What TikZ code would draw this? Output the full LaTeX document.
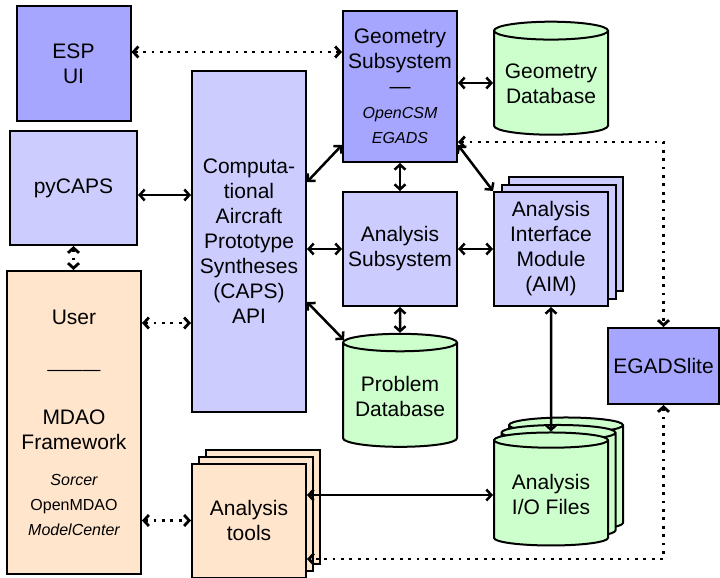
\documentclass[tikz,border=0pt]{standalone}
\usepackage{fontspec}
\setmainfont{Liberation Sans}
\usepackage{tikz}
\usetikzlibrary{arrows.meta,positioning,calc,shapes.geometric,shadows}
\tikzset{
  blk/.style={draw,line width=2pt,fill=#1,minimum width=114pt,minimum height=114pt,inner sep=1pt,align=center,font=\fontsize{21}{25}\selectfont},
  blk/.default={blue!20},
  db/.style={draw,line width=2pt,fill=green!20,cylinder,shape border rotate=90,aspect=0.19,minimum width=114pt,minimum height=113pt,inner sep=1pt,align=center,font=\fontsize{21}{25}\selectfont},
  stk/.style={double copy shadow={shadow xshift=#1,shadow yshift=#1}},
  stk/.default={7.5pt},
  arr/.style={{Straight Barb[length=5pt,width=11pt]}-{Straight Barb[length=5pt,width=11pt]},line width=2.5pt},
  dotarr/.style={arr,line width=2.8pt,dash pattern=on 2.8pt off 5.6pt},
}
\newcommand{\smit}[1]{{\fontsize{16}{25}\selectfont\itshape #1}}
\newcommand{\smup}[1]{{\fontsize{16}{25}\selectfont #1}}

\begin{document}
\begin{tikzpicture}
 \useasboundingbox (0,0) rectangle (720pt,-578pt);
 \node[blk=blue!35] (esp) at (73.5pt,-63.5pt){ESP\\UI};
 \node[blk,minimum width=127pt] (pycaps) at (73.5pt,-188pt){pyCAPS};
 \node[blk,minimum height=341pt] (caps) at (249pt,-241.5pt){Computa-\\tional\\Aircraft\\Prototype\\Syntheses\\(CAPS)\\API};
 \node[blk=blue!35,minimum height=151pt] (geom) at (400pt,-86.5pt){Geometry\\Subsystem\\—\\\smit{OpenCSM}\\\smit{EGADS}};
 \node[db] (gdb) at (551pt,-84pt){Geometry\\Database};
 \node[blk] (asub) at (400pt,-249pt){Analysis\\Subsystem};
 \node[blk,stk] (aim) at (551pt,-249pt){Analysis\\Interface\\Module\\(AIM)};
 \node[db] (pdb) at (400pt,-396pt){Problem\\Database};
 \node[db,stk] (io) at (551pt,-494pt){Analysis\\I/O Files};
 \node[blk=blue!35,minimum width=111pt,minimum height=76pt] (egl) at (663.5pt,-366pt){EGADSlite};
 \node[blk=orange!20,minimum width=134pt,minimum height=303pt] (user) at (74pt,-422.5pt){User\\[26pt]{\fontsize{17.7}{25}\selectfont ———}\\[24pt]MDAO\\Framework\\[11pt]\smit{Sorcer}\\\smup{OpenMDAO}\\\smit{ModelCenter}};
 \node[blk=orange!20,stk=7pt] (tools) at (249pt,-520.5pt){Analysis\\tools};
 \draw[dotarr] ([yshift=11.5pt]esp.east) -- ([yshift=11.5pt]esp.east -| geom.west);
 \draw[arr] ([yshift=-7pt]pycaps.east) -- ([yshift=-7pt]pycaps.east -| caps.west);
 \draw[dotarr] (pycaps.south) -- (pycaps.south |- user.north);
 \draw[dotarr] ([yshift=99.5pt]user.east) -- ([yshift=99.5pt]user.east -| caps.west);
 \draw[dotarr] (user.east |- tools.west) -- (tools.west);
 \draw[arr] ([yshift=59.5pt]caps.east) -- ([yshift=-58.5pt]geom.west);
 \draw[arr] (caps.east |- asub.west) -- (asub.west);
 \draw[arr] ([yshift=-60.5pt]caps.east) -- (pdb.135);
 \draw[arr] ([yshift=3.5pt]geom.east) -- ([yshift=3.5pt]geom.east -| gdb.west);
 \draw[arr] (geom.south) -- (asub.north);
 \draw[arr] ([yshift=-58.5pt]geom.east) -- (aim.north west);
 \draw[dotarr] ([yshift=-55.5pt]geom.east) -| (egl.north);
 \draw[arr] (asub.east) -- (aim.west);
 \draw[arr] (asub.south) -- (pdb.north);
 \draw[arr] (aim.south) -- (io.north);
 \draw[arr] ([yshift=25.5pt]tools.east) -- ([yshift=25.5pt]tools.east -| io.west);
 \draw[dotarr] (egl.south) |- ([yshift=-38.5pt]tools.east);
\end{tikzpicture}
\end{document}
